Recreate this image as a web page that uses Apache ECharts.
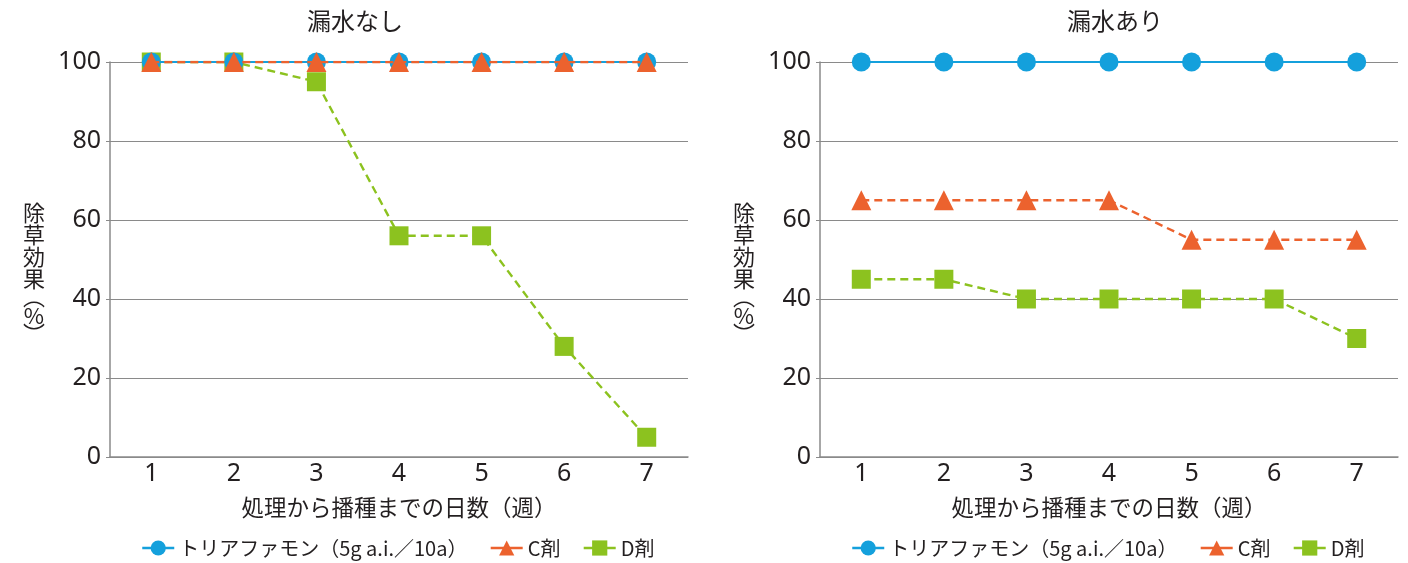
<!DOCTYPE html>
<html><head><meta charset="utf-8">
<script src="https://cdn.jsdelivr.net/npm/echarts@6/dist/echarts.min.js"></script>
<style>html,body{margin:0;padding:0;background:#fff}#c{width:1408px;height:563px}</style>
</head><body><div id="c"></div>
<script>
var categories = ['1','2','3','4','5','6','7'];
var seriesNames = ['トリアファモン（5g a.i.／10a）', 'C剤', 'D剤'];
var titles = ['漏水なし', '漏水あり'];
var xAxisName = '処理から播種までの日数（週）';
var yAxisName = '{a|除}\n{a|草}\n{a|効}\n{a|果}\n{p|︵}\n{a|%}\n{p|︶}';
var noLeakTri = [100,100,100,100,100,100,100];
var noLeakC   = [100,100,100,100,100,100,100];
var noLeakD   = [100,100,95,56,56,28,5];
var leakTri   = [100,100,100,100,100,100,100];
var leakC     = [65,65,65,65,55,55,55];
var leakD     = [45,45,40,40,40,40,30];

var FONT = '"Noto Sans CJK JP", "Noto Sans", sans-serif';
var NUMFONT = '"Noto Sans", "Noto Sans CJK JP", sans-serif';
var BLUE = '#14a0dc', ORANGE = '#ec622e', GREEN = '#8cc21f';
var TXT = '#231f20';

function mkX(i){
  return {type:'category', gridIndex:i, data:categories, boundaryGap:true,
    axisLine:{lineStyle:{color:'#8a8a8a', width:1.5}},
    axisTick:{inside:true, length:11, lineStyle:{color:'#8a8a8a', width:1.2}},
    axisLabel:{color:TXT, fontSize:25, fontFamily:NUMFONT, margin:4},
    name:xAxisName, nameLocation:'middle', nameGap:39,
    nameTextStyle:{color:TXT, fontSize:22.5, fontFamily:FONT}};
}
function mkY(i){
  return {type:'value', gridIndex:i, min:0, max:100, interval:20,
    axisLine:{show:true, lineStyle:{color:'#8a8a8a', width:1.5}},
    axisTick:{show:true, length:4, lineStyle:{color:'#8a8a8a'}},
    splitLine:{lineStyle:{color:'#8a8a8a', width:1.2}},
    axisLabel:{color:TXT, fontSize:25, fontFamily:NUMFONT, margin:9},
    name:yAxisName, nameLocation:'middle', nameRotate:0, nameGap:65,
    nameTextStyle:{color:TXT, fontFamily:FONT, padding:[24,0,0,0],
      rich:{a:{fontSize:22, lineHeight:22, color:TXT, fontFamily:FONT, align:'center'},
            p:{fontSize:22, lineHeight:15, color:TXT, fontFamily:FONT, align:'center'}}}};
}
function mkSeries(i, tri, c, d){
  return [
    {name:seriesNames[0], type:'line', xAxisIndex:i, yAxisIndex:i, data:tri, z:3,
      symbol:'circle', symbolSize:19, itemStyle:{color:BLUE}, lineStyle:{color:BLUE, width:2.2}},
    {name:seriesNames[1], type:'line', xAxisIndex:i, yAxisIndex:i, data:c, z:4,
      symbol:'triangle', symbolSize:20, itemStyle:{color:ORANGE}, lineStyle:{color:ORANGE, width:2.4, type:[8,5]}},
    {name:seriesNames[2], type:'line', xAxisIndex:i, yAxisIndex:i, data:d, z:2,
      symbol:'rect', symbolSize:19, itemStyle:{color:GREEN}, lineStyle:{color:GREEN, width:2.4, type:[8,5]}}
  ];
}
function mkLegend(left){
  return {data:seriesNames, left:left, bottom:0, itemWidth:32, itemHeight:19, itemGap:22,
    lineStyle:{type:'solid', width:2.5},
    textStyle:{color:TXT, fontSize:20, fontFamily:FONT}, selectedMode:false};
}
var chart = echarts.init(document.getElementById('c'));
chart.setOption({
  animation:false,
  backgroundColor:'#fff',
  title:[
    {text:titles[0], left:350, top:4, textAlign:'center', textStyle:{color:TXT, fontSize:24, fontWeight:'normal', fontFamily:FONT}},
    {text:titles[1], left:1110, top:4, textAlign:'center', textStyle:{color:TXT, fontSize:24, fontWeight:'normal', fontFamily:FONT}}
  ],
  grid:[
    {left:110, right:720, top:62, bottom:106},
    {left:820, right:10, top:62, bottom:106}
  ],
  legend:[mkLegend(136), mkLegend(846)],
  xAxis:[mkX(0), mkX(1)],
  yAxis:[mkY(0), mkY(1)],
  series:[].concat(mkSeries(0, noLeakTri, noLeakC, noLeakD), mkSeries(1, leakTri, leakC, leakD))
});
</script></body></html>
